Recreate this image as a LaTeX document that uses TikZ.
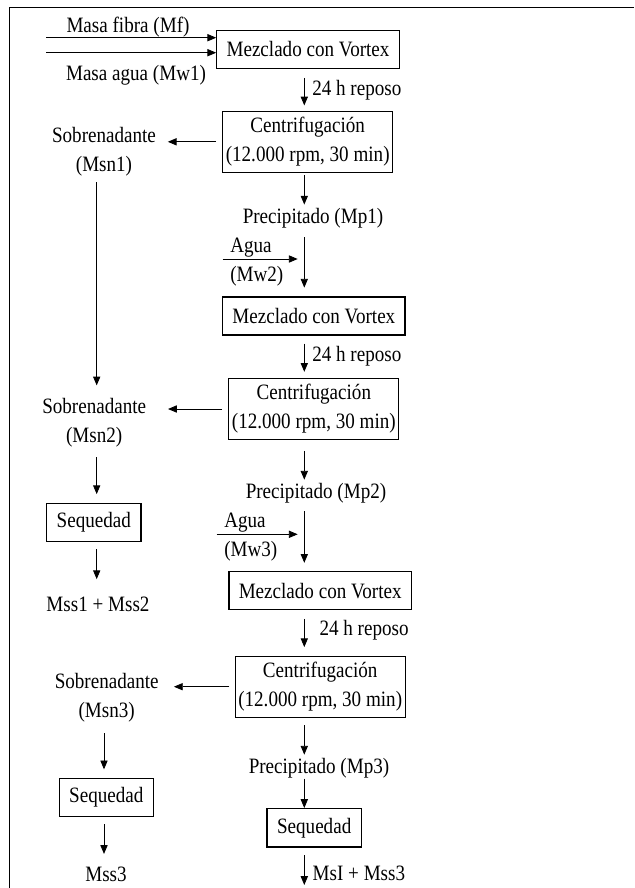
\documentclass[tikz,border=0pt]{standalone}
\usepackage{fontspec}
\setmainfont{Liberation Serif}[FakeStretch=0.87]
\usetikzlibrary{arrows.meta, calc}
\tikzstyle{arrow} = [line width=0.6pt, -{Triangle[length=2.2mm, width=1.8mm]}]
\tikzstyle{txt} = [inner sep=0pt, align=center, font=\fontsize{15.6pt}{20.6pt}\selectfont]
\tikzstyle{mixbox} = [txt, draw, line width=0.8pt, minimum width=4.56cm, minimum height=0.95cm]
\tikzstyle{centbox} = [mixbox, minimum width=4.25cm, minimum height=1.53cm]
\tikzstyle{drybox} = [mixbox, minimum width=2.36cm, minimum height=0.96cm]

\begin{document}
\begin{tikzpicture}[x=0.025cm, y=-0.025cm]
    \useasboundingbox (0,0) rectangle (634,888);
    % Frame
    \draw[line width=1pt] (634,7.3) -- (9.7,7.3) -- (9.7,888);

    % Columns of the vertical arrows
    \coordinate (c1) at (304.3,0);
    \coordinate (c2) at (96.7,0);
    \coordinate (c3) at (104,0);

    % Inputs
    \node[txt] (fibra) at (128,27) {Masa fibra (Mf)};
    \node[txt] (agua) at (136,75) {Masa agua (Mw1)};
    \coordinate (in1) at (46,37.7);
    \coordinate (in2) at (46,52.7);

    % Stage 1
    \node[mixbox] (mix1) at (308,49.5) {Mezclado con Vortex};
    \node[centbox] (cent1) at (307.7,141.8) {Centrifugación\\(12.000 rpm, 30 min)};
    \node[txt] (sob1) at (104,152) {Sobrenadante\\(Msn1)};
    \node[txt] (mp1) at (313,218) {Precipitado (Mp1)};
    \node[txt, align=left, anchor=west] (w2) at (230,262.5) {Agua\\(Mw2)};
    \coordinate (w2in) at (222.7,259);

    % Stage 2
    \node[mixbox] (mix2) at (313.8,316) {Mezclado con Vortex};
    \node[centbox] (cent2) at (313.8,409) {Centrifugación\\(12.000 rpm, 30 min)};
    \node[txt] (sob2) at (94.2,422.5) {Sobrenadante\\(Msn2)};
    \node[drybox] (seq1) at (93.8,522.3) {Sequedad};
    \node[txt] (mss12) at (98,604.2) {Mss1 + Mss2};
    \node[txt] (mp2) at (316,493.3) {Precipitado (Mp2)};
    \node[txt, align=left, anchor=west] (w3) at (224,536.7) {Agua\\(Mw3)};
    \coordinate (w3in) at (216.7,534.3);

    % Stage 3
    \node[mixbox] (mix3) at (320.2,590.8) {Mezclado con Vortex};
    \node[centbox] (cent3) at (320.2,686.7) {Centrifugación\\(12.000 rpm, 30 min)};
    \node[txt] (sob3) at (106.7,697.5) {Sobrenadante\\(Msn3)};
    \node[drybox] (seq2) at (106.3,797.5) {Sequedad};
    \node[txt] (mss3) at (106,874) {Mss3};
    \node[txt] (mp3) at (319,768.3) {Precipitado (Mp3)};
    \node[drybox] (seq3) at (314.2,827.8) {Sequedad};
    \coordinate (out) at (304.3,885);

    % Arrows, stage 1
    \draw[arrow] (in1) -- (in1 -| mix1.west);
    \draw[arrow] (in2) -- (in2 -| mix1.west);
    \draw[arrow, shorten <=0.22cm, shorten >=0.13cm] (mix1.south -| c1) -- (cent1.north -| c1)
        node[txt, midway, right=0.19cm] (rep1) {24 h reposo};
    \draw[arrow, shorten <=0.15cm, shorten >=0.29cm] (cent1.west) -- (cent1.west -| sob1.east);
    \draw[arrow, shorten <=0.14cm, shorten >=0.31cm] (sob1.south -| c2) -- (sob2.north -| c2);
    \draw[arrow, shorten <=0.06cm, shorten >=0.08cm] (cent1.south -| c1) -- (mp1.north -| c1);
    \draw[arrow, shorten <=0.22cm, shorten >=0.22cm] (mp1.south -| c1) -- (mix2.north -| c1);
    \draw[arrow, shorten >=0.165cm] (w2in) -- (w2in -| c1);

    % Arrows, stage 2
    \draw[arrow, shorten <=0.2cm, shorten >=0.15cm] (mix2.south -| c1) -- (cent2.north -| c1)
        node[txt, midway, right=0.19cm] (rep2) {24 h reposo};
    \draw[arrow, shorten <=0.15cm, shorten >=0.54cm] (cent2.west) -- (cent2.west -| sob2.east);
    \draw[arrow, shorten <=0.25cm, shorten >=0.21cm] (sob2.south -| c2) -- (seq1.north -| c2);
    \draw[arrow, shorten <=0.175cm, shorten >=0.435cm] (seq1.south -| c2) -- (mss12.north -| c2);
    \draw[arrow, shorten <=0.27cm, shorten >=0.085cm] (cent2.south -| c1) -- (mp2.north -| c1);
    \draw[arrow, shorten <=0.19cm, shorten >=0.21cm] (mp2.south -| c1) -- (mix3.north -| c1);
    \draw[arrow, shorten >=0.165cm] (w3in) -- (w3in -| c1);

    % Arrows, stage 3
    \draw[arrow, shorten <=0.21cm, shorten >=0.21cm] (mix3.south -| c1) -- (cent3.north -| c1)
        node[txt, midway, right=0.37cm, yshift=0.07cm] (rep3) {24 h reposo};
    \draw[arrow, shorten <=0.13cm, shorten >=0.375cm] (cent3.west) -- (cent3.west -| sob3.east);
    \draw[arrow, shorten <=0.27cm, shorten >=0.21cm] (sob3.south -| c3) -- (seq2.north -| c3);
    \draw[arrow, shorten <=0.18cm, shorten >=0.31cm] (seq2.south -| c3) -- (mss3.north -| c3);
    \draw[arrow, shorten <=0.19cm, shorten >=0.085cm] (cent3.south -| c1) -- (mp3.north -| c1);
    \draw[arrow] (mp3.south -| c1) -- (seq3.north -| c1);
    \draw[arrow, shorten <=0.19cm] (seq3.south -| c1) -- (out)
        node[txt, pos=0.7, right=0.2cm] (msi) {MsI + Mss3};
\end{tikzpicture}
\end{document}
